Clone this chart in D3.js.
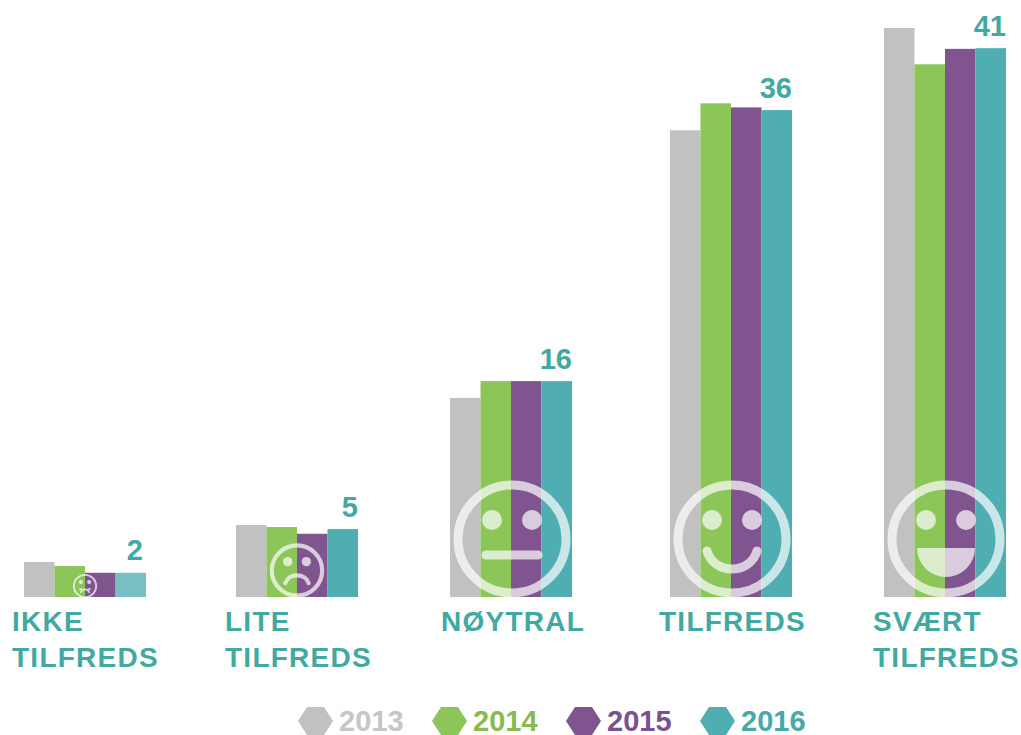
<!DOCTYPE html>
<html>
<head>
<meta charset="utf-8">
<script src="https://cdn.jsdelivr.net/npm/d3@7"></script>
<style>
  html, body { margin: 0; padding: 0; background: #fff; }
  svg { display: block; }
  text { font-family: "Liberation Sans", Arial, sans-serif; font-weight: bold; }
</style>
</head>
<body>
<div id="chart"></div>
<script>
const categories = ["IKKE TILFREDS", "LITE TILFREDS", "NØYTRAL", "TILFREDS", "SVÆRT TILFREDS"];
const years = ["2013", "2014", "2015", "2016"];

const values2013 = [2.6, 5.35, 14.8, 34.7, 42.3];
const values2014 = [2.3, 5.2, 16.05, 36.7, 39.6];
const values2015 = [1.8, 4.7, 16.05, 36.4, 40.75];
const values2016 = [1.8, 5.05, 16.05, 36.2, 40.8];
const seriesValues = [values2013, values2014, values2015, values2016];

// printed above the last bar of each group
const valueLabels = [2, 5, 16, 36, 41];

const moods = ["cry", "frown", "flat", "smile", "grin"];

const colors = ["#c1c1c1", "#8cc558", "#80558f", "#4faeb2"];
const legendTextColors = ["#c6c6c6", "#86bb50", "#7a5090", "#45aaa8"];
const labelColor = "#42a9a2";

const width = 1021, height = 735;

const svg = d3.select("#chart").append("svg")
    .attr("width", width)
    .attr("height", height);

// the groups are not evenly spaced in the original
const xGroup = d3.scaleOrdinal().domain(categories).range([24, 236, 450, 670, 884]);
const xLabel = d3.scaleOrdinal().domain(categories).range([12, 225, 441, 659, 873]);
const xBar = d3.scaleBand().domain(years).range([0, 122]);
const y = d3.scaleLinear().domain([0, 42.3]).range([597, 28]);

//one group per category, bars first and the face on top
const groups = svg.selectAll("g.group")
  .data(categories)
  .enter()
  .append("g")
    .attr("class", "group")
    .attr("transform", d => `translate(${xGroup(d)}, 0)`);

groups.selectAll("rect")
  .data((d, i) => years.map((yr, j) => ({yr: yr, j: j, cat: i, value: seriesValues[j][i]})))
  .enter()
  .append("rect")
    .attr("x", d => xBar(d.yr))
    .attr("y", d => y(d.value))
    .attr("width", xBar.bandwidth())
    .attr("height", d => y(0) - y(d.value))
    .attr("fill", d => colors[d.j])
    .attr("fill-opacity", d => (d.cat === 0 && d.j === 3) ? 0.78 : 1);

groups.append("text")
    .attr("x", (d, i) => xBar.range()[1] - (i === 0 ? 3 : 0))
    .attr("y", (d, i) => y(values2016[i]) - 12.5)
    .attr("text-anchor", "end")
    .attr("font-size", 29)
    .attr("fill", labelColor)
    .text((d, i) => valueLabels[i]);

// face drawn in a 58 radius box, then scaled down to fit
const faceCenters = [[85, 586, 0.207], [297, 570.5, 0.466], [512, 539, 1], [732, 539, 1], [946, 539, 1]];

function drawFace(sel, mood) {
  sel.append("circle").attr("r", 54).attr("fill", "none").attr("stroke", "#fff").attr("stroke-width", 9);
  sel.selectAll("circle.eye")
    .data([-20, 20])
    .enter()
    .append("circle")
      .attr("class", "eye")
      .attr("cx", d => d)
      .attr("cy", -19)
      .attr("r", 10)
      .attr("fill", "#fff");
  let mouth = sel.append("path").attr("fill", "none").attr("stroke", "#fff")
      .attr("stroke-width", 9).attr("stroke-linecap", "round");
  if (mood === "flat") mouth.attr("d", "M-26,16H26");
  if (mood === "smile") mouth.attr("d", "M-25,12C-18,36 18,36 25,12");
  if (mood === "frown") mouth.attr("d", "M-25,27C-18,5 18,5 25,27");
  if (mood === "cry") mouth.attr("d", "M-20,30C-12,12 12,12 20,30M-24,14L-10,20M24,14L10,20");
  if (mood === "grin") mouth.attr("stroke", "none").attr("fill", "#fff")
      .attr("d", "M-29,9H29A29,29 0 0 1 -29,9Z");
}

svg.selectAll("g.face")
  .data(moods)
  .enter()
  .append("g")
    .attr("class", "face")
    .attr("opacity", 0.7)
    .attr("transform", (d, i) => `translate(${faceCenters[i][0]}, ${faceCenters[i][1]}) scale(${faceCenters[i][2]})`)
    .each(function(d) { drawFace(d3.select(this), d); });

//category names, split on the space like the original
svg.selectAll("text.cat")
  .data(categories)
  .enter()
  .append("text")
    .attr("class", "cat")
    .attr("font-size", 28)
    .attr("letter-spacing", 1.25)
    .attr("fill", labelColor)
    .each(function(d) {
      d3.select(this).selectAll("tspan")
        .data(d.split(" "))
        .enter()
        .append("tspan")
          .attr("x", xLabel(d))
          .attr("y", (w, i) => 631 + i * 36)
          .text(w => w);
    });

// legend
const xLegend = d3.scaleBand().domain(years).range([298, 834]);
const hex = [[-17.5, 0], [-8.5, -14], [8.5, -14], [17.5, 0], [8.5, 14], [-8.5, 14]];
const legend = svg.selectAll("g.legend")
  .data(years)
  .enter()
  .append("g")
    .attr("class", "legend")
    .attr("transform", d => `translate(${xLegend(d)}, 0)`);

legend.append("path")
    .attr("transform", "translate(17.5, 721)")
    .attr("d", d3.line()(hex) + "Z")
    .attr("fill", (d, i) => colors[i]);

legend.append("text")
    .attr("x", 41)
    .attr("y", 731)
    .attr("font-size", 29)
    .attr("fill", (d, i) => legendTextColors[i])
    .text(d => d);
</script>
</body>
</html>
